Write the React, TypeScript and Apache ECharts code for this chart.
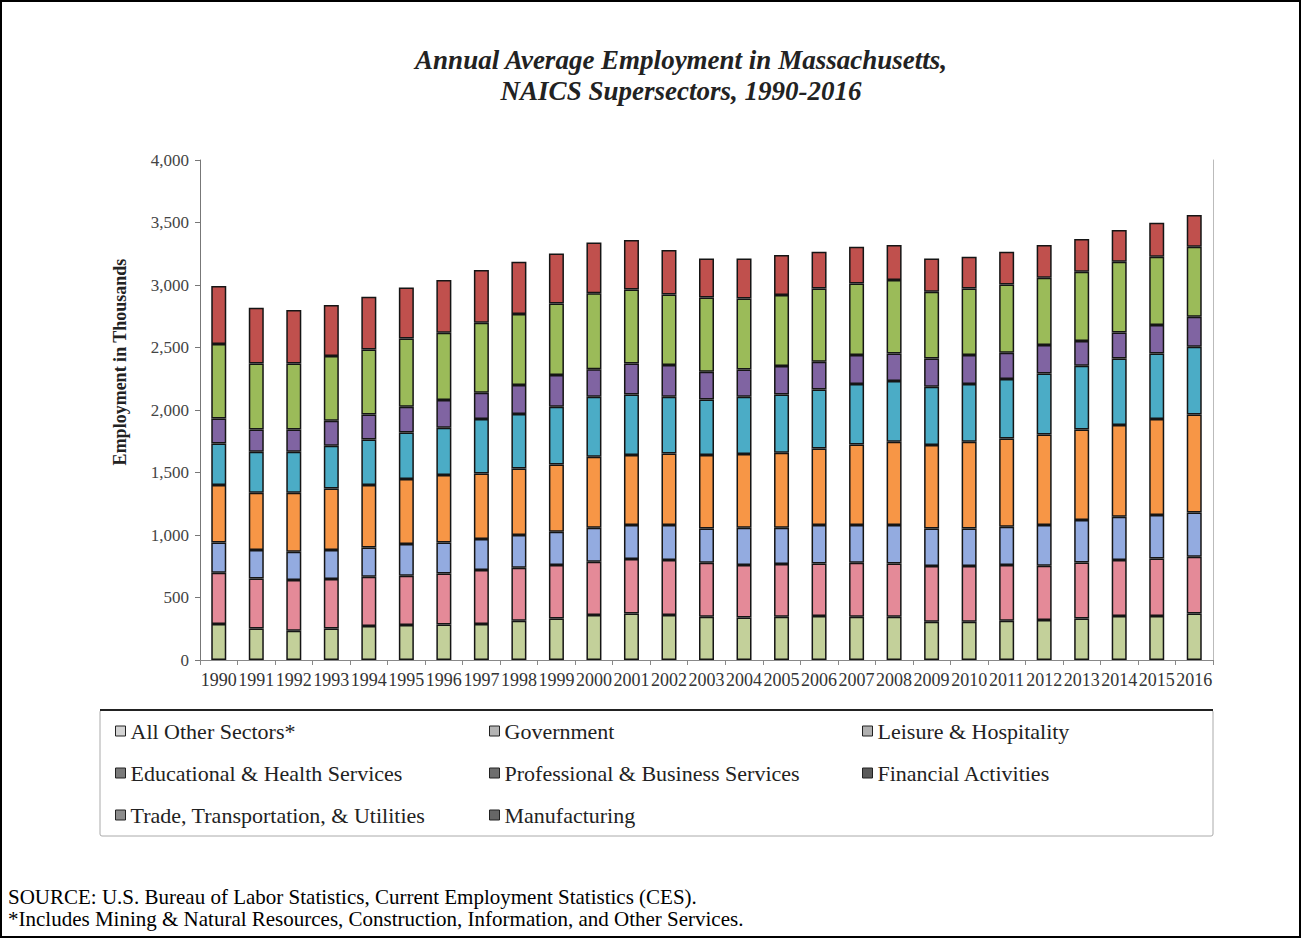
import React, { useEffect, useRef } from "react";
import * as echarts from "echarts";

const years = ["1990","1991","1992","1993","1994","1995","1996","1997","1998","1999","2000","2001","2002","2003","2004","2005","2006","2007","2008","2009","2010","2011","2012","2013","2014","2015","2016"];

const allOther = [288,253,235,253,272,280,285,288,315,333,360,373,360,347,341,347,352,347,347,307,307,315,320,333,352,352,373];
const government = [411,400,405,395,395,395,408,432,424,427,427,435,440,432,420,421,421,432,426,445,445,445,435,448,448,461,454];
const leisure = [242,227,227,232,234,253,248,248,261,267,272,272,280,274,298,291,307,301,307,301,301,307,325,339,347,347,354];
const eduHealth = [459,459,472,493,499,520,539,525,533,538,568,560,573,587,589,600,613,645,667,667,694,706,725,725,733,768,784];
const profBusiness = [333,328,328,342,365,373,379,435,435,462,480,485,454,445,459,466,472,483,485,467,461,475,488,510,533,525,542];
const financial = [200,178,178,200,200,206,221,211,232,253,219,248,253,222,218,227,222,232,221,226,232,211,227,197,208,227,240];
const tradeTransUtil = [595,528,528,517,520,546,539,560,568,573,608,592,565,594,568,568,586,573,587,534,533,546,539,555,566,547,560];
const manufacturing = [464,446,427,408,422,408,421,421,419,400,406,395,355,312,320,320,294,294,280,266,254,262,261,261,253,272,253];

const seriesNames = [
  "All Other Sectors*",
  "Government",
  "Leisure & Hospitality",
  "Educational & Health Services",
  "Professional & Business Services",
  "Financial Activities",
  "Trade, Transportation, & Utilities",
  "Manufacturing",
];
const seriesData = [allOther, government, leisure, eduHealth, profBusiness, financial, tradeTransUtil, manufacturing];
const barColors = ["#c3d09a", "#e48a98", "#93abe0", "#f79646", "#4bacc6", "#8064a2", "#9bbb59", "#c0504d"];
const legendIconColors = ["#d4d4d4", "#b4b4b4", "#b0b0b0", "#7a7a7a", "#6e6e6e", "#5a5a5a", "#8c8c8c", "#666666"];

const legendColumns = [
  [0, 3, 6],
  [1, 4, 7],
  [2, 5],
];
const legendLefts = [110, 484, 857];

const yTicks = { min: 0, max: 4000, interval: 500 };

const SERIF = "'Liberation Serif', 'Times New Roman', serif";

export default function App() {
  const ref = useRef<HTMLDivElement>(null);

  useEffect(() => {
    if (!ref.current) return;
    const chart = echarts.init(ref.current, null, { renderer: "svg" });

    const series = seriesNames.map((name, i) => ({
      name,
      type: "bar",
      stack: "total",
      barWidth: 15,
      data: seriesData[i],
      itemStyle: { color: barColors[i], borderColor: "#151515", borderWidth: 1.5 },
    }));

    const legends = legendColumns.map((col, ci) => ({
      orient: "vertical",
      left: legendLefts[ci],
      top: 715,
      itemGap: 20,
      itemWidth: 10,
      itemHeight: 10,
      icon: "rect",
      textStyle: { fontFamily: SERIF, fontSize: 22, color: "#222", lineHeight: 22 },
      data: col.map((idx) => ({
        name: seriesNames[idx],
        itemStyle: { color: legendIconColors[idx], borderColor: "#222", borderWidth: 1 },
      })),
    }));

    chart.setOption({
      animation: false,
      backgroundColor: "#ffffff",
      title: {
        text: "Annual Average Employment in Massachusetts,\nNAICS Supersectors, 1990-2016",
        left: 676,
        top: 39,
        textAlign: "center",
        textStyle: {
          fontFamily: SERIF,
          fontStyle: "italic",
          fontWeight: "bold",
          fontSize: 27,
          lineHeight: 31,
          color: "#222",
        },
      },
      legend: legends,
      grid: { left: 200, right: 88, top: 160, bottom: 278, containLabel: false },
      xAxis: {
        type: "category",
        data: years,
        axisLine: { lineStyle: { color: "#888", width: 1 } },
        axisTick: { show: true, length: 5, lineStyle: { color: "#888" } },
        axisLabel: {
          interval: 0,
          hideOverlap: false,
          margin: 11,
          fontFamily: SERIF,
          fontSize: 18,
          color: "#333",
        },
      },
      yAxis: [
        {
          type: "value",
          min: yTicks.min,
          max: yTicks.max,
          interval: yTicks.interval,
          axisLine: { show: true, lineStyle: { color: "#777", width: 1 } },
          axisTick: { show: true, length: 5, lineStyle: { color: "#777" } },
          splitLine: { show: false },
          axisLabel: {
            margin: 11,
            fontFamily: SERIF,
            fontSize: 17,
            color: "#444",
            formatter: (v: number) => v.toLocaleString("en-US"),
          },
        },
        {
          type: "value",
          position: "right",
          min: yTicks.min,
          max: yTicks.max,
          interval: yTicks.interval,
          axisLine: { show: true, lineStyle: { color: "#bbb", width: 1 } },
          axisTick: { show: false },
          axisLabel: { show: false },
          splitLine: { show: false },
        },
      ],
      series,
      graphic: [
        {
          type: "rect",
          z: -1,
          shape: { x: 1, y: 1, width: 1299, height: 936 },
          style: { fill: "none", stroke: "#000", lineWidth: 2 },
        },
        {
          type: "text",
          x: 120,
          y: 362,
          rotation: Math.PI / 2,
          style: {
            text: "Employment in Thousands",
            fontFamily: SERIF,
            fontWeight: "bold",
            fontSize: 18,
            fill: "#222",
            align: "center",
            verticalAlign: "middle",
          },
        },
        {
          type: "rect",
          z: -1,
          shape: { x: 100, y: 710, width: 1113, height: 126, r: 2 },
          style: { fill: "#fff", stroke: "#aaa", lineWidth: 1 },
        },
        {
          type: "line",
          shape: { x1: 100, y1: 710, x2: 1213, y2: 710 },
          style: { stroke: "#222", lineWidth: 2 },
        },
        {
          type: "text",
          x: 8,
          y: 897,
          style: {
            text: "SOURCE: U.S. Bureau of Labor Statistics, Current Employment Statistics (CES).",
            fontFamily: SERIF,
            fontSize: 21,
            fill: "#000",
            verticalAlign: "middle",
          },
        },
        {
          type: "text",
          x: 8,
          y: 919,
          style: {
            text: "*Includes Mining & Natural Resources, Construction, Information, and Other Services.",
            fontFamily: SERIF,
            fontSize: 21,
            fill: "#000",
            verticalAlign: "middle",
          },
        },
      ],
    });

    return () => chart.dispose();
  }, []);

  return (
    <div
      ref={ref}
      style={{ position: "absolute", left: 0, top: 0, width: 1301, height: 938 }}
    />
  );
}
